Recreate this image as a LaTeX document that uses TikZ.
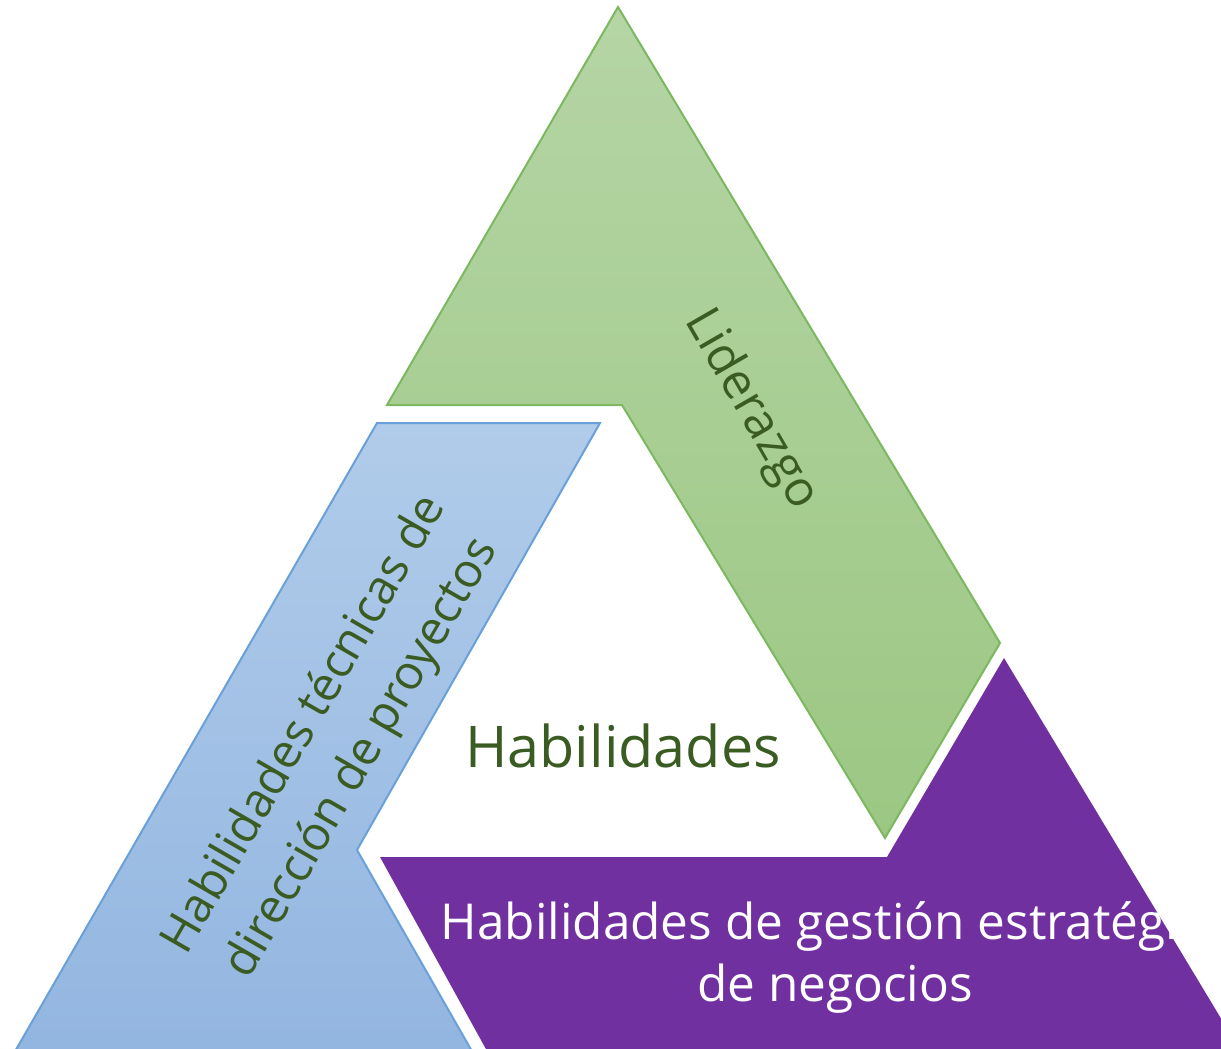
\documentclass[tikz,border=0pt]{standalone}
\usepackage{fontspec}
\setmainfont{Open Sans}
\definecolor{gtop}{HTML}{B5D5A5}
\definecolor{gbot}{HTML}{9CC783}
\definecolor{gedge}{HTML}{7DB760}
\definecolor{btop}{HTML}{B1CCEA}
\definecolor{bbot}{HTML}{92B5E0}
\definecolor{bedge}{HTML}{69A0DA}
\definecolor{purp}{HTML}{7030A0}
\definecolor{dgreen}{HTML}{3A5C22}
\tikzset{
  greenpiece/.style={top color=gtop, bottom color=gbot, draw=gedge, line width=2pt, line join=miter},
  bluepiece/.style={top color=btop, bottom color=bbot, draw=bedge, line width=2pt, line join=miter},
  purppiece/.style={fill=purp},
  lbl/.style={text=dgreen, inner sep=0pt, align=center},
}
\begin{document}
\begin{tikzpicture}[x=1pt,y=-1pt]
\useasboundingbox (0,0) rectangle (1221,1049);
\clip (0,0) rectangle (1221,1049);
% green piece
\path[greenpiece] (618,7) -- (1000,643) -- (885,838) -- (622,405) -- (387,405) -- cycle;
% blue piece
\path[bluepiece] (377,423) -- (600,423) -- (357,850) -- (477,1060) -- (10,1060) -- cycle;
% purple piece
\path[purppiece] (380,857) -- (887,857) -- (1004,658) -- (1240,1050) -- (1240,1060) -- (492,1060) -- cycle;
% labels
\node[lbl, font=\fontsize{57.5}{60}\selectfont] (center) at (623,746) {Habilidades};
\node[lbl, rotate=-60, font=\fontsize{49}{54}\selectfont] (lid) at (751,410) {Liderazgo};
\node[lbl, rotate=60, font=\fontsize{47.5}{66}\selectfont] (tec) at (334,742) {Habilidades técnicas de\\dirección de proyectos};
\node[inner sep=0pt, align=center, text=white, font=\fontsize{49.5}{62}\selectfont] (neg) at (835,957) {Habilidades de gestión estratégica\\de negocios};
\end{tikzpicture}
\end{document}
